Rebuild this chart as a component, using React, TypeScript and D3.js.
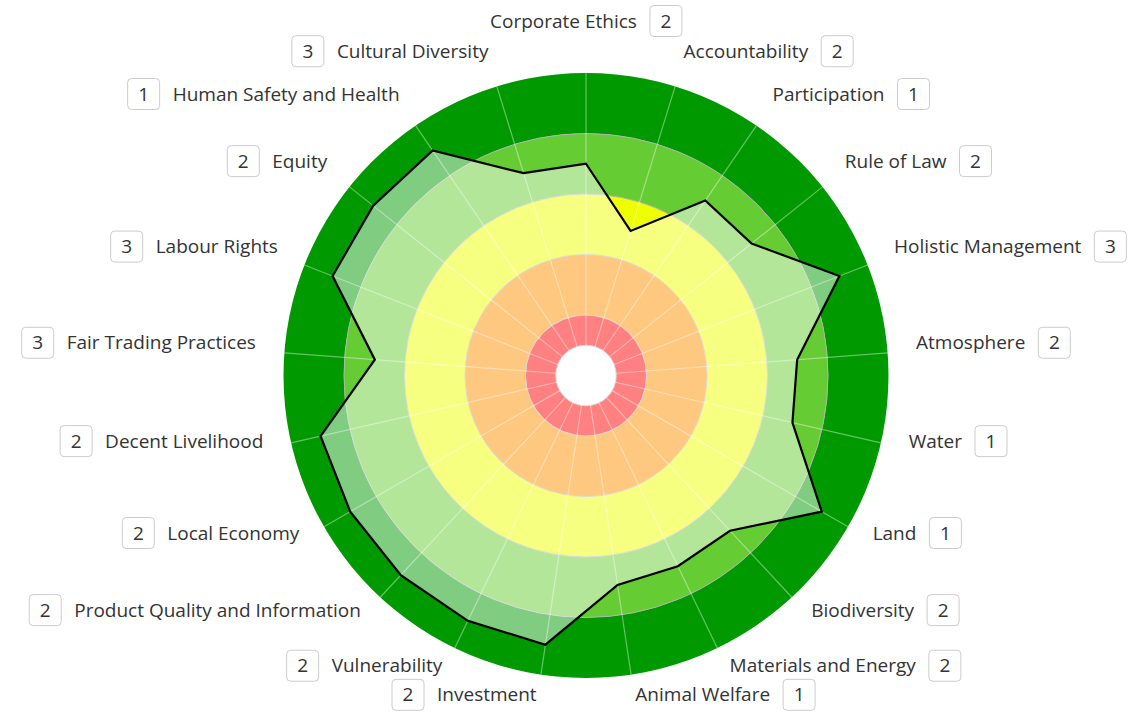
import { arc, curveLinearClosed, lineRadial, scaleLinear, select } from "d3";
import { useEffect, useRef } from "react";

const categories = [
  "Corporate Ethics",
  "Accountability",
  "Participation",
  "Rule of Law",
  "Holistic Management",
  "Atmosphere",
  "Water",
  "Land",
  "Biodiversity",
  "Materials and Energy",
  "Animal Welfare",
  "Investment",
  "Vulnerability",
  "Product Quality and Information",
  "Local Economy",
  "Decent Livelihood",
  "Fair Trading Practices",
  "Labour Rights",
  "Equity",
  "Human Safety and Health",
  "Cultural Diversity",
];

const values = [3.5, 2.5, 3.5, 3.5, 4.5, 3.5, 3.5, 4.5, 3.5, 3.5, 3.5, 4.5, 4.5, 4.5, 4.5, 4.5, 3.5, 4.5, 4.5, 4.5, 3.5];

const scores = [2, 2, 1, 2, 3, 2, 1, 1, 2, 2, 1, 2, 2, 2, 2, 2, 3, 3, 2, 1, 3];

const bandStops = [0.5, 1, 2, 3, 4, 5];
const bandColors = ["#ff0000", "#ff9100", "#eeff00", "#66cc33", "#009900"];

const WIDTH = 1132;
const HEIGHT = 712;
const cx = 586;
const cy = 375.5;
const outer = 302.5;
const labelR = 331;

function SustainabilityRadar() {
  const svgRef = useRef<SVGSVGElement>(null);

  useEffect(() => {
    const svg = select(svgRef.current);
    svg.selectAll("*").remove();

    const r = scaleLinear().domain([0, 5]).range([0, outer]);
    const angle = scaleLinear()
      .domain([0, categories.length])
      .range([0, 2 * Math.PI]);

    const g = svg.append("g").attr("transform", `translate(${cx},${cy})`);

    // plot bands
    const ring = arc<any>();
    g.selectAll("path.band")
      .data(bandColors)
      .join("path")
      .attr("class", "band")
      .attr("fill", (d) => d)
      .attr("d", (_d, i) =>
        ring({
          innerRadius: r(bandStops[i]),
          outerRadius: r(bandStops[i + 1]),
          startAngle: 0,
          endAngle: 2 * Math.PI,
        })
      );

    // band borders
    g.selectAll("circle.grid")
      .data(bandStops.slice(0, -1))
      .join("circle")
      .attr("class", "grid")
      .attr("r", (d) => r(d))
      .attr("fill", "none")
      .attr("stroke", "#b4b4b4")
      .attr("stroke-width", 1);

    // spokes
    g.selectAll("line.spoke")
      .data(categories)
      .join("line")
      .attr("class", "spoke")
      .attr("x1", (_d, i) => r(0.5) * Math.sin(angle(i)))
      .attr("y1", (_d, i) => -r(0.5) * Math.cos(angle(i)))
      .attr("x2", (_d, i) => r(5) * Math.sin(angle(i)))
      .attr("y2", (_d, i) => -r(5) * Math.cos(angle(i)))
      .attr("stroke", "rgba(255,255,255,0.4)")
      .attr("stroke-width", 1.2);

    // series area
    const area = lineRadial<number>()
      .angle((_d, i) => angle(i))
      .radius((d) => r(d))
      .curve(curveLinearClosed);

    g.append("path")
      .datum(values)
      .attr("d", area)
      .attr("fill", "rgba(255,255,255,0.5)")
      .attr("stroke", "#000")
      .attr("stroke-width", 2.2)
      .attr("stroke-linejoin", "miter");

    // labels with score boxes
    const labels = svg.append("g").attr("font-family", "'Open Sans', sans-serif").attr("font-size", 19);
    const boxW = 32;
    const boxH = 31;
    const gap = 13;

    categories.forEach((name, i) => {
      const a = angle(i);
      const s = Math.sin(a);
      let lx = cx + labelR * s;
      const ly = i === 0 ? 21 : cy - 8 - labelR * Math.cos(a);

      const lg = labels.append("g");
      const txt = lg
        .append("text")
        .attr("y", ly)
        .attr("dy", "0.35em")
        .attr("fill", "#333")
        .text(name);
      const w = (txt.node() as SVGTextElement).getComputedTextLength();

      let boxX;
      if (i === 0) {
        const total = w + gap + boxW;
        lx = cx - total / 2;
        txt.attr("x", lx).attr("text-anchor", "start");
        boxX = lx + w + gap;
      } else if (s > 0) {
        txt.attr("x", lx).attr("text-anchor", "start");
        boxX = lx + w + gap;
      } else {
        txt.attr("x", lx).attr("text-anchor", "end");
        boxX = lx - w - gap - boxW;
      }

      lg.append("rect")
        .attr("x", boxX)
        .attr("y", ly - boxH / 2)
        .attr("width", boxW)
        .attr("height", boxH)
        .attr("rx", 4)
        .attr("fill", "#fff")
        .attr("stroke", "#cccccc")
        .attr("stroke-width", 1);

      lg.append("text")
        .attr("x", boxX + boxW / 2)
        .attr("y", ly)
        .attr("dy", "0.35em")
        .attr("text-anchor", "middle")
        .attr("fill", "#333")
        .text(scores[i]);
    });
  }, []);

  return (
    <svg
      ref={svgRef}
      width={WIDTH}
      height={HEIGHT}
      style={{ position: "absolute", left: 0, top: 0, background: "#fff" }}
    ></svg>
  );
}

export default function App() {
  return <SustainabilityRadar />;
}
